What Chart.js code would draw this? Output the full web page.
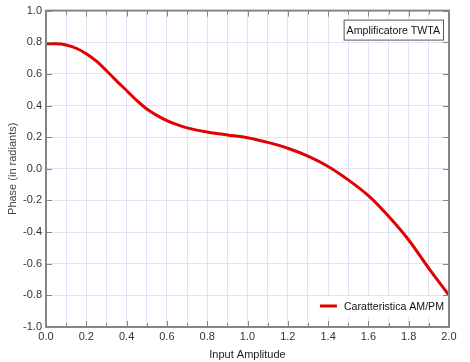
<!DOCTYPE html>
<html>
<head>
<meta charset="utf-8">
<script src="https://cdn.jsdelivr.net/npm/chart.js@4/dist/chart.umd.min.js"></script>
<style>
  html, body { margin: 0; padding: 0; background: #fff; }
  #wrap { width: 470px; height: 362px; position: relative; }
</style>
</head>
<body>
<div id="wrap"><canvas id="amPm"></canvas></div>
<script>
'use strict';

// ── DATA ──
const amplitude = [0.0, 0.05, 0.1, 0.15, 0.2, 0.25, 0.3, 0.35, 0.4, 0.45, 0.5, 0.55, 0.6, 0.65, 0.7, 0.8, 0.9, 1.0,
                   1.1, 1.2, 1.3, 1.4, 1.5, 1.6, 1.7, 1.8, 1.9, 2.0];
const phase     = [0.79, 0.79, 0.783, 0.762, 0.727, 0.68, 0.62, 0.556, 0.495, 0.432, 0.378, 0.338, 0.305, 0.279, 0.259, 0.232, 0.214, 0.196,
                   0.167, 0.13, 0.08, 0.015, -0.07, -0.17, -0.30, -0.45, -0.63, -0.80];
const seriesLabel = 'Caratteristica AM/PM';
const boxTitle    = 'Amplificatore TWTA';
const xTitle      = 'Input Amplitude';
const yTitle      = 'Phase (in radiants)';

const FONT = "'Liberation Sans', Arial, sans-serif";
const FRAME = '#858585';
const GRID = '#e2e2f6';

// ── FRAME + INWARD TICKS + BOXES ──
const decor = {
  id: 'decor',
  afterDraw(chart) {
    const { ctx, chartArea: a, scales: { x, y } } = chart;
    ctx.save();
    ctx.strokeStyle = FRAME;
    ctx.lineWidth = 1;
    // x ticks (top + bottom), major every 0.2
    for (let i = 0; i <= 20; i++) {
      const px = Math.round(x.getPixelForValue(i / 10)) + 0.5;
      const len = i % 2 === 0 ? 6 : 4;
      ctx.beginPath();
      ctx.moveTo(px, a.bottom); ctx.lineTo(px, a.bottom - len);
      ctx.moveTo(px, a.top); ctx.lineTo(px, a.top + len);
      ctx.stroke();
    }
    // y ticks (left + right)
    for (let i = -5; i <= 5; i++) {
      const py = Math.round(y.getPixelForValue(i / 5)) + 0.5;
      ctx.beginPath();
      ctx.moveTo(a.left, py); ctx.lineTo(a.left + 6, py);
      ctx.moveTo(a.right, py); ctx.lineTo(a.right - 6, py);
      ctx.stroke();
    }
    // frame
    ctx.lineWidth = 2;
    ctx.strokeRect(a.left, a.top, a.right - a.left, a.bottom - a.top);

    // title box (top right)
    ctx.font = '10.6px ' + FONT;
    const tw = ctx.measureText(boxTitle).width;
    const bx = a.right - 6 - tw - 6, by = a.top + 9;
    ctx.fillStyle = '#fff';
    ctx.fillRect(bx, by, tw + 6, 20);
    ctx.lineWidth = 1;
    ctx.strokeStyle = '#555';
    ctx.strokeRect(bx + 0.5, by + 0.5, tw + 6, 20);
    ctx.fillStyle = '#111';
    ctx.textBaseline = 'middle';
    ctx.fillText(boxTitle, bx + 3, by + 11);

    // legend (bottom right)
    const lw = ctx.measureText(seriesLabel).width;
    const lx = a.right - 5 - lw, ly = a.bottom - 21;
    ctx.fillStyle = '#fff';
    ctx.fillRect(lx - 30, ly - 10, lw + 34, 20);
    ctx.strokeStyle = '#e00000';
    ctx.lineWidth = 3;
    ctx.beginPath();
    ctx.moveTo(lx - 24, ly); ctx.lineTo(lx - 7, ly);
    ctx.stroke();
    ctx.fillStyle = '#111';
    ctx.fillText(seriesLabel, lx, ly + 1);
    ctx.restore();
  }
};

new Chart(document.getElementById('amPm'), {
  type: 'line',
  data: {
    datasets: [{
      label: seriesLabel,
      data: amplitude.map((v, i) => ({ x: v, y: phase[i] })),
      borderColor: '#e20000',
      borderWidth: 3,
      pointRadius: 0,
      cubicInterpolationMode: 'monotone',
      fill: false
    }]
  },
  options: {
    responsive: true,
    maintainAspectRatio: false,
    animation: false,
    layout: { padding: { left: 0, right: 21, top: 10, bottom: 0 } },
    plugins: { legend: { display: false }, tooltip: { enabled: false } },
    scales: {
      x: {
        type: 'linear', min: 0, max: 2,
        afterFit: s => { s.height = 35; },
        ticks: {
          stepSize: 0.1, color: '#333', padding: 3, maxRotation: 0, autoSkip: false,
          font: { family: FONT, size: 11 },
          callback: v => Math.round(v * 10) % 2 === 0 ? v.toFixed(1) : ''
        },
        grid: { color: GRID, drawTicks: false },
        border: { display: false },
        title: { display: true, text: xTitle, color: '#222', font: { family: FONT, size: 11 }, padding: { top: 0, bottom: 0 } }
      },
      y: {
        min: -1, max: 1,
        afterFit: s => { s.width = 46; },
        ticks: {
          stepSize: 0.2, color: '#333', padding: 4,
          font: { family: FONT, size: 11 },
          callback: v => v.toFixed(1)
        },
        grid: { color: GRID, drawTicks: false },
        border: { display: false },
        title: { display: true, text: yTitle, color: '#444', font: { family: FONT, size: 11 }, padding: { top: 6, bottom: 0 } }
      }
    }
  },
  plugins: [decor]
});
</script>
</body>
</html>
